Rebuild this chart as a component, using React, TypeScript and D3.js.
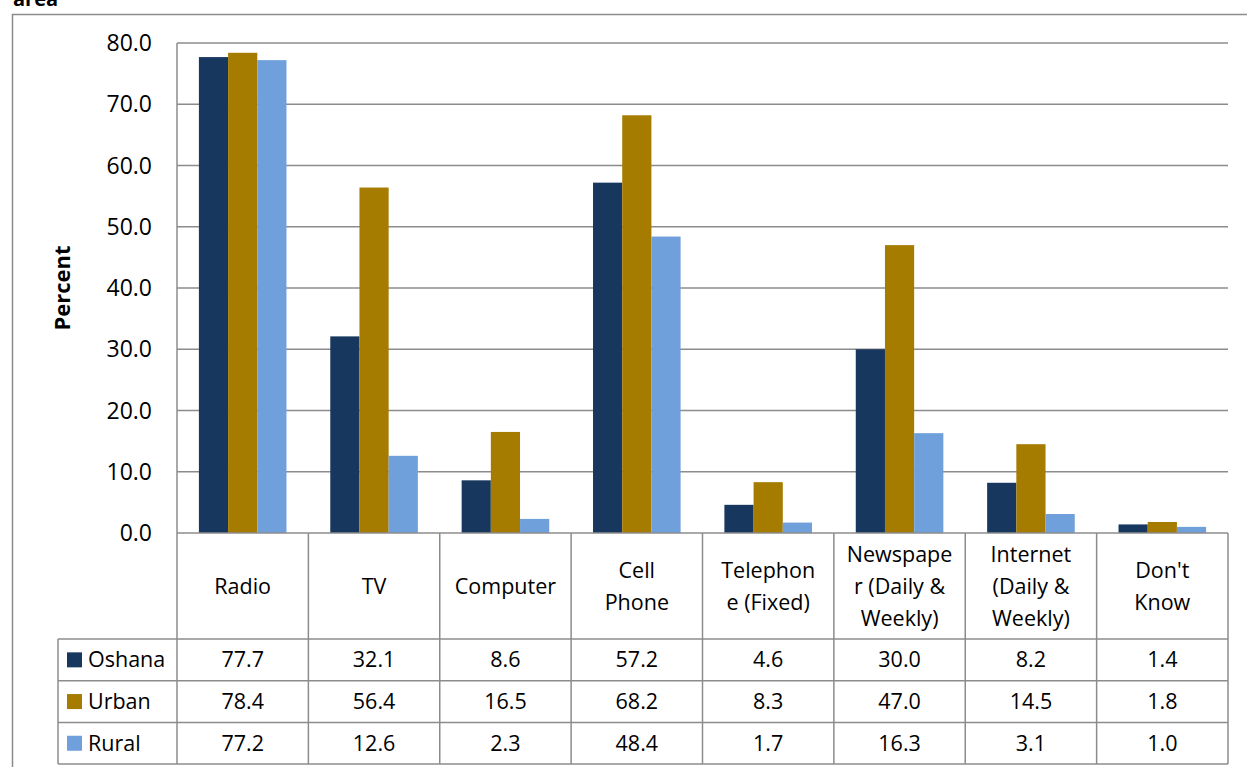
import React from "react";
import * as d3 from "d3";

const categories = ["Radio", "TV", "Computer", "Cell Phone", "Telephone (Fixed)", "Newspaper (Daily & Weekly)", "Internet (Daily & Weekly)", "Don't Know"];
const categoryLines = [["Radio"], ["TV"], ["Computer"], ["Cell", "Phone"], ["Telephon", "e (Fixed)"], ["Newspape", "r (Daily &", "Weekly)"], ["Internet", "(Daily &", "Weekly)"], ["Don't", "Know"]];
const seriesNames = ["Oshana", "Urban", "Rural"];
const oshana = [77.7, 32.1, 8.6, 57.2, 4.6, 30.0, 8.2, 1.4];
const urban = [78.4, 56.4, 16.5, 68.2, 8.3, 47.0, 14.5, 1.8];
const rural = [77.2, 12.6, 2.3, 48.4, 1.7, 16.3, 3.1, 1.0];
const yTicks = [0, 10, 20, 30, 40, 50, 60, 70, 80];
const colors = ["#17375E", "#A57B00", "#6FA0DC"];

const W = 1247, H = 767;
const plotL = 177, plotR = 1228, plotT = 43, plotB = 533;
const catRowB = 639;
const rowH = 41.7;
const legendL = 58;
const font = "'Open Sans', 'Liberation Sans', sans-serif";
const gridColor = "#8C8C8C";

export default function App() {
  const series = [oshana, urban, rural];
  const x = d3.scaleBand<string>().domain(categories).range([plotL, plotR]).paddingInner(0).paddingOuter(0);
  const y = d3.scaleLinear().domain([0, 80]).range([plotB, plotT]);
  const bw = x.bandwidth();
  const barW = bw / 4.5;
  const rows = seriesNames.map((_, i) => catRowB + i * rowH);
  const tableB = catRowB + 3 * rowH;

  return (
    <svg width={W} height={H} style={{ position: "absolute", left: 0, top: 0, background: "#fff" }} fontFamily={font}>
      <rect x={0} y={0} width={W} height={H} fill="#fff" />
      <text x={13} y={6} fontSize={20} fontWeight="bold" fill="#000">area</text>
      <rect x={12.5} y={14.5} width={1260} height={800} fill="none" stroke="#8C8C8C" strokeWidth={1.5} />

      {yTicks.map((t) => (
        <g key={t}>
          {t > 0 && <line x1={plotL} x2={plotR} y1={y(t)} y2={y(t)} stroke={gridColor} strokeWidth={1.5} />}
          <text x={152} y={y(t)} dy="0.35em" textAnchor="end" fontSize={23} fill="#000">{t.toFixed(1)}</text>
        </g>
      ))}
      <line x1={plotL} x2={plotL} y1={plotT} y2={tableB} stroke={gridColor} strokeWidth={1.5} />

      <text transform={`translate(70, ${(plotT + plotB) / 2}) rotate(-90)`} textAnchor="middle" fontSize={22} fontWeight="bold" fill="#000">Percent</text>

      {categories.map((c, ci) => (
        <g key={c}>
          {series.map((s, si) => {
            const bx = (x(c) as number) + (bw - 3 * barW) / 2 + si * barW;
            return <rect key={si} x={bx} y={y(s[ci])} width={barW} height={plotB - y(s[ci])} fill={colors[si]} />;
          })}
        </g>
      ))}

      {/* table */}
      <line x1={plotL} x2={plotR} y1={plotB} y2={plotB} stroke={gridColor} strokeWidth={1.5} />
      {rows.map((ry, i) => (
        <line key={i} x1={legendL} x2={plotR} y1={ry} y2={ry} stroke={gridColor} strokeWidth={1.5} />
      ))}
      <line x1={legendL} x2={plotR} y1={tableB} y2={tableB} stroke={gridColor} strokeWidth={1.5} />
      <line x1={legendL} x2={legendL} y1={catRowB} y2={tableB} stroke={gridColor} strokeWidth={1.5} />
      {categories.map((c) => (
        <line key={c} x1={(x(c) as number) + bw} x2={(x(c) as number) + bw} y1={plotB} y2={tableB} stroke={gridColor} strokeWidth={1.5} />
      ))}

      {categories.map((c, ci) => {
        const lines = categoryLines[ci];
        const cx = (x(c) as number) + bw / 2;
        const cy = (plotB + catRowB) / 2;
        const lh = 32;
        return (
          <g key={c}>
            {lines.map((ln, li) => (
              <text key={li} x={cx} y={cy + (li - (lines.length - 1) / 2) * lh} dy="0.35em" textAnchor="middle" fontSize={21.5} fill="#000">{ln}</text>
            ))}
            {series.map((s, si) => (
              <text key={si} x={cx} y={rows[si] + rowH / 2} dy="0.35em" textAnchor="middle" fontSize={21.5} fill="#000">{s[ci].toFixed(1)}</text>
            ))}
          </g>
        );
      })}

      {seriesNames.map((n, si) => (
        <g key={n}>
          <rect x={67} y={rows[si] + rowH / 2 - 7.5} width={15} height={15} fill={colors[si]} />
          <text x={88} y={rows[si] + rowH / 2} dy="0.35em" fontSize={21.5} fill="#000">{n}</text>
        </g>
      ))}
    </svg>
  );
}
